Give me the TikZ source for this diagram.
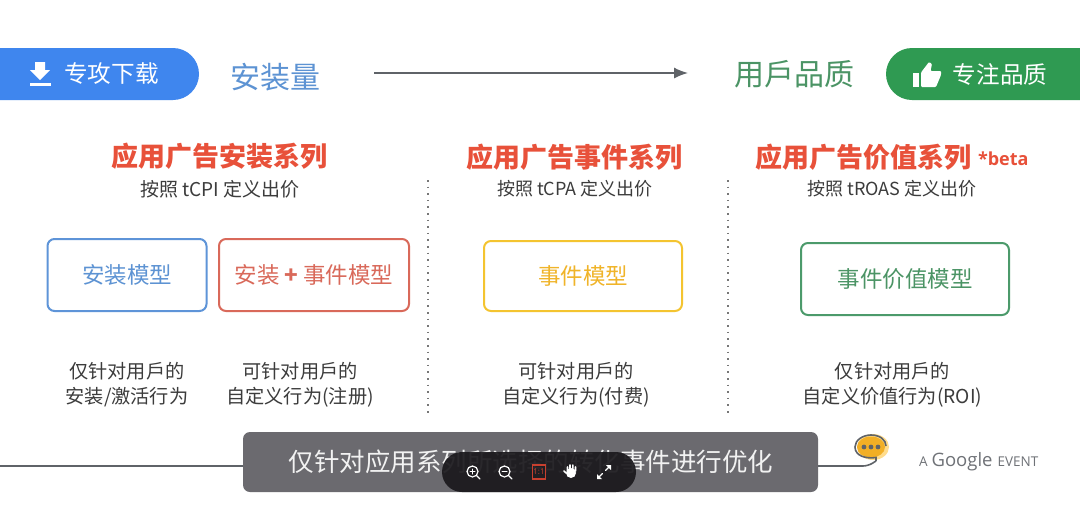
\documentclass[tikz,border=0pt]{standalone}
\usepackage{fontspec}
\usetikzlibrary{arrows.meta,calc}
\setmainfont{Noto Sans CJK SC}
\newfontfamily\latinfont{Open Sans}
\definecolor{gblue}{HTML}{3F86EE}
\definecolor{gbluetxt}{HTML}{5D93D3}
\definecolor{ggreen}{HTML}{2F9A52}
\definecolor{ggreentxt}{HTML}{4B9465}
\definecolor{gred}{HTML}{E8513A}
\definecolor{gredbox}{HTML}{D9695A}
\definecolor{gyellow}{HTML}{F4C430}
\definecolor{gyellowtxt}{HTML}{F0B429}
\definecolor{boxblue}{HTML}{5E94D8}
\definecolor{boxgreen}{HTML}{4C9A6B}
\definecolor{txtgrey}{HTML}{3C3C3C}
\definecolor{bargrey}{HTML}{6B6A6F}
\definecolor{linegrey}{HTML}{5F6368}
\definecolor{toolbar}{HTML}{1B191D}
\definecolor{onered}{HTML}{C8402F}
\tikzset{
  x=1pt,y=-1pt,
  txt/.style={inner sep=0pt,outer sep=0pt,align=center},
  headtxt/.style={txt,text=gred,font=\fontsize{27}{29}\selectfont\bfseries},
  subtxt/.style={txt,text=txtgrey,font=\fontsize{18}{22}\selectfont},
  captxt/.style={txt,text=txtgrey,font=\fontsize{19.2}{25}\selectfont},
  modelbox/.style={txt,draw,line width=2pt,rounded corners=7pt,font=\fontsize{22.5}{25}\selectfont},
  topword/.style={txt,font=\fontsize{30}{32}\selectfont},
  btnword/.style={txt,text=white,font=\fontsize{23.6}{25}\selectfont},
  seprule/.style={line width=1.6pt,txtgrey!70,dash pattern=on 1.6pt off 5pt},
  iconline/.style={white,line width=1.2pt,line cap=round,line join=round},
}
\begin{document}
\begin{tikzpicture}
\useasboundingbox (0,0) rectangle (1080,504);
\fill[white] (0,0) rectangle (1080,504);

% top buttons
\fill[gblue] (0,48) -- (173,48) arc[start angle=-90,end angle=90,radius=26] -- (0,100) -- cycle;
\fill[ggreen] (1080,48) -- (912,48) arc[start angle=-90,end angle=-270,radius=26] -- (1080,100) -- cycle;
\node[btnword] (dl) at (111.5,74) {专攻下载};
\node[btnword] (fq) at (1000,74) {专注品质};
% download icon
\fill[white] (35,62) -- (45,62) -- (45,70) -- (50,70) -- (40,80) -- (30,70) -- (35,70) -- cycle;
\fill[white] (29.5,83) rectangle (50.5,86);
% thumb icon
\fill[white] (913,73) rectangle (918.5,87);
\fill[white,rounded corners=1pt] (921,87) -- (921,72.5) -- (929,62) -- (932,64) -- (930.5,71) -- (941,71) -- (941,75) -- (936,87) -- cycle;

\node[topword,text=gbluetxt] (inst) at (275,77) {安装量};
\node[topword,text=ggreentxt] (qual) at (794,74) {用戶品质};
\draw[line width=1.5pt,linegrey,shorten <=54pt,shorten >=46pt,-{Latex[length=14pt,width=11pt]}] (inst.east |- 0,73) -- (qual.west |- 0,73);

% column headings
\node[headtxt] (h1) at (219,156) {应用广告安装系列};
\node[headtxt] (h2) at (574.5,157) {应用广告事件系列};
\node[headtxt,anchor=west] (h3) at (755,157) {应用广告价值系列};
\node[txt,text=gred,font=\latinfont\fontsize{18}{20}\selectfont\bfseries,anchor=west] (beta) at (978,159) {*beta};
\node[subtxt,font=\fontsize{19}{22}\selectfont] (s1) at (220,189) {按照 tCPI 定义出价};
\node[subtxt] (s2) at (575,189) {按照 tCPA 定义出价};
\node[subtxt] (s3) at (892,189) {按照 tROAS 定义出价};

% dotted separators
\coordinate (d1a) at (428,180); \coordinate (d1b) at (428,416);
\coordinate (d2a) at (728,180); \coordinate (d2b) at (728,416);
\draw[seprule] (d1a) -- (d1b);
\draw[seprule] (d2a) -- (d2b);

% model boxes
\node[modelbox,draw=boxblue,text=gbluetxt,minimum width=159pt,minimum height=72pt] (m1) at (127,275) {\raisebox{-1.5pt}{安装模型}};
\node[modelbox,draw=gredbox,text=gredbox,minimum width=190pt,minimum height=72pt] (m2) at (314,275) {\raisebox{-1.5pt}{安装 {\bfseries +} 事件模型}};
\node[modelbox,draw=gyellow,text=gyellowtxt,minimum width=198pt,minimum height=70pt] (m3) at (583,276) {\raisebox{-1.5pt}{事件模型}};
\node[modelbox,draw=boxgreen,text=ggreentxt,minimum width=208pt,minimum height=72pt] (m4) at (905,279) {\raisebox{-1.5pt}{事件价值模型}};

% captions
\node[captxt] (c1) at (127,385) {仅针对用戶的\\安装/激活行为};
\node[captxt] (c2) at (300,385) {可针对用戶的\\自定义行为(注册)};
\node[captxt] (c3) at (576,385) {可针对用戶的\\自定义行为(付费)};
\node[captxt] (c4) at (892.5,385) {仅针对用戶的\\自定义价值行为(ROI)};

% bottom rule and speech bubble
\coordinate (l0) at (0,466);
\coordinate (bb) at (871,447);
\draw[line width=1.6pt,linegrey] (l0) -- (243,466);
\fill[orange!60!yellow,opacity=.45] (873,447) ellipse[x radius=16,y radius=13];
\fill[fill=gyellowtxt!90!orange] (bb) ellipse[x radius=14,y radius=10.5];
\draw[line width=1.6pt,linegrey,rounded corners=5pt] (818,466) -- (868,466) -- (876,461);
\draw[line width=1.6pt,linegrey] (876,461) -- (876,457.5) .. controls (866,459) and (855,456) .. (855,447) .. controls (855,440) and (863,435) .. (871,435) .. controls (880,435) and (886,440) .. (886,446);
\foreach \dx in {-7,0,7}{\fill[linegrey] ($(bb)+(\dx,0)$) circle[radius=2.4];}
\node[txt,text=linegrey!90,anchor=west] (gevent) at (919,462) {{\latinfont\fontsize{13.5}{14}\selectfont A}\hspace{4pt}{\latinfont\fontsize{18.5}{20}\selectfont Google}\hspace{5pt}{\latinfont\fontsize{13.5}{14}\selectfont EVENT}};

% caption bar
\fill[bargrey,rounded corners=7pt] (243,432) rectangle (818,492);
\node[txt,text=white!95!black,font=\fontsize{25.5}{28}\selectfont] (bar) at (531,462) {仅针对应用系列所选择的转化事件进行优化};

% viewer toolbar
\fill[toolbar,opacity=.93,rounded corners=20pt] (442,452) rectangle (636,492);
\coordinate (t1) at (473,472); \coordinate (t2) at (505,472); \coordinate (t3) at (539,472); \coordinate (t4) at (571,472); \coordinate (t5) at (604,472);
\draw[iconline] ($(t1)+(-.5,-.5)$) circle[radius=5.5] ($(t1)+(3.5,3.5)$) -- ($(t1)+(7,7)$);
\draw[iconline,line width=1pt] ($(t1)+(-3,-.5)$) -- ($(t1)+(2,-.5)$) ($(t1)+(-.5,-3)$) -- ($(t1)+(-.5,2)$);
\draw[iconline] ($(t2)+(-.5,-.5)$) circle[radius=5.5] ($(t2)+(3.5,3.5)$) -- ($(t2)+(7,7)$);
\draw[iconline,line width=1pt] ($(t2)+(-3,-.5)$) -- ($(t2)+(2,-.5)$);
\node[txt,draw=onered,line width=1.2pt,text=onered,minimum width=13pt,minimum height=14pt,font=\latinfont\fontsize{8}{8}\selectfont] (one) at (t3) {1:1};
\fill[white] ($(t4)+(0,1)$) circle[radius=5];
\draw[iconline,line width=1.6pt] ($(t4)+(-3.5,-1)$) -- ($(t4)+(-3.5,-5)$) ($(t4)+(-1,-2)$) -- ($(t4)+(-1,-7)$) ($(t4)+(1.8,-2)$) -- ($(t4)+(1.8,-7)$) ($(t4)+(4.5,-1)$) -- ($(t4)+(4.5,-5)$) ($(t4)+(-5,1)$) -- ($(t4)+(-7,-1)$);
\draw[iconline] ($(t5)+(-6,6)$) -- ($(t5)+(-1.5,1.5)$) ($(t5)+(1.5,-1.5)$) -- ($(t5)+(6,-6)$);
\fill[white] ($(t5)+(-7,7)$) -- ($(t5)+(-7,2)$) -- ($(t5)+(-2,7)$) -- cycle;
\fill[white] ($(t5)+(7,-7)$) -- ($(t5)+(7,-2)$) -- ($(t5)+(2,-7)$) -- cycle;
\end{tikzpicture}
\end{document}
